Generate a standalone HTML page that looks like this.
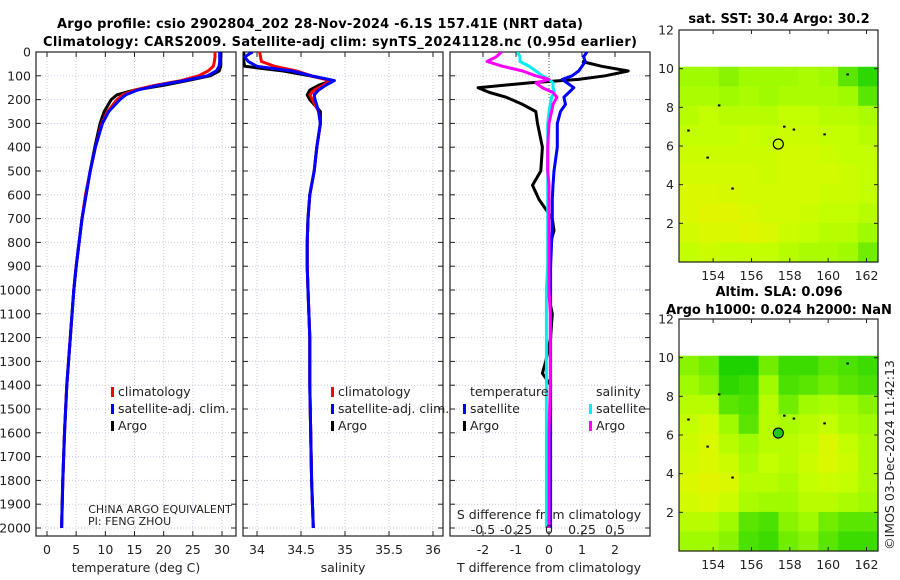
<!DOCTYPE html>
<html><head><meta charset="utf-8"><style>
html,body{margin:0;padding:0;background:#fff;}
svg{display:block;font-family:"DejaVu Sans","Liberation Sans",sans-serif;}
text{fill:#222;}
.t{font-weight:bold;font-size:13px;fill:#000;}
.tk{font-size:12.5px;}
.lg{font-size:12.5px;}
</style></head><body>
<svg id="fig" width="900" height="580" viewBox="0 0 900 580">
<rect width="900" height="580" fill="#fff"/>
<text class="t" x="320" y="28" text-anchor="middle" textLength="526">Argo profile: csio 2902804_202 28-Nov-2024 -6.1S 157.41E (NRT data)</text>
<text class="t" x="340" y="46" text-anchor="middle" textLength="594">Climatology: CARS2009. Satellite-adj clim: synTS_20241128.nc (0.95d earlier)</text>
<text class="t" x="779" y="23" text-anchor="middle">sat. SST: 30.4 Argo: 30.2</text>
<text class="t" x="779" y="296" text-anchor="middle">Altim. SLA: 0.096</text>
<text class="t" x="779" y="314" text-anchor="middle">Argo h1000: 0.024 h2000: NaN</text>
<text x="894" y="455" font-size="12.5" text-anchor="middle" transform="rotate(-90 894 455)">©IMOS 03-Dec-2024 11:42:13</text>
<text class="tk" x="136" y="572" text-anchor="middle">temperature (deg C)</text>
<text class="tk" x="343" y="572" text-anchor="middle">salinity</text>
<text class="tk" x="549" y="572" text-anchor="middle">T difference from climatology</text>
<text x="160" y="513" font-size="11" text-anchor="middle">CHINA ARGO EQUIVALENT</text>
<text x="88" y="525" font-size="11">PI: FENG ZHOU</text>
<text class="tk" x="549" y="519" text-anchor="middle">S difference from climatology</text>
</svg>
<script>
// ---- data ----
const depthLevels = [0,20,40,60,80,100,120,140,160,180,200,250,300,400,500,600,700,800,900,1000,1200,1400,1600,1800,2000];
const tempArgo  = [29.8,29.8,29.8,29.8,29.5,28,24,20,15,12,11,9.8,9.1,8.2,7.4,6.7,6.0,5.5,5.0,4.6,4.0,3.4,3.0,2.7,2.5];
const tempClim  = [28.8,28.8,28.7,28.5,27.6,26,23,18.5,15,13,12,10.4,9.4,8.3,7.4,6.6,6.0,5.5,5.0,4.6,4.0,3.4,3.0,2.7,2.5];
const tempSat   = [29.6,29.6,29.6,29.5,29.0,27.5,23.5,19,15.5,13.5,12.5,10.6,9.5,8.3,7.4,6.7,6.0,5.5,5.0,4.6,4.0,3.4,3.0,2.7,2.5];
const salArgo   = [33.85,33.85,33.85,33.86,34.3,34.6,34.85,34.7,34.6,34.57,34.6,34.72,34.72,34.68,34.65,34.6,34.58,34.57,34.57,34.58,34.6,34.6,34.61,34.62,34.64];
const salClim   = [34.03,34.04,34.05,34.2,34.45,34.62,34.83,34.75,34.65,34.6,34.63,34.7,34.72,34.68,34.65,34.6,34.58,34.57,34.57,34.58,34.6,34.6,34.61,34.62,34.64];
const salSat    = [33.95,33.86,33.9,34.0,34.4,34.62,34.88,34.78,34.7,34.65,34.66,34.7,34.72,34.68,34.65,34.6,34.58,34.57,34.57,34.58,34.6,34.6,34.61,34.62,34.64];
const diffDepths = [0,20,40,60,80,100,115,130,150,170,190,220,250,300,400,500,560,620,700,750,800,900,1000,1100,1200,1300,1350,1400,1600,1800,2000];
const tDiffArgo = [null,null,1.0,1.6,2.4,1.7,0.9,-0.6,-2.15,-1.8,-1.3,-0.8,-0.4,-0.35,-0.2,-0.25,-0.5,-0.3,0.1,0.15,0.05,0,-0.05,0.1,0.05,-0.1,-0.2,0.05,0.02,0.02,0.02];
const tDiffSat  = [1.15,1.05,1.1,1.0,0.9,0.7,0.4,0.55,0.75,0.6,0.45,0.5,0.35,0.25,0.25,0.15,0.12,0.1,0.1,0.1,0.08,0.05,0.05,0.05,0.05,0.05,0.05,0.05,0.05,0.05,0.05];
const sDiffArgo = [-0.36,-0.4,-0.47,-0.35,-0.2,-0.1,0,-0.1,-0.05,0.03,0.06,0.03,0.02,0.0,-0.01,-0.01,0,0,0,0,0,0,0,0.01,0.01,0.01,0.01,0.01,0.0,0.0,0.0];
const sDiffSat  = [-0.24,-0.22,-0.22,-0.15,-0.1,-0.05,0.0,0.03,0.03,0.04,0.02,0.01,0,-0.01,-0.01,-0.01,-0.01,-0.01,-0.01,-0.01,-0.01,-0.01,-0.02,-0.02,-0.02,-0.02,-0.02,-0.02,-0.02,-0.02,-0.02];
const depthTicks = [0,100,200,300,400,500,600,700,800,900,1000,1100,1200,1300,1400,1500,1600,1700,1800,1900,2000];
const tempTicks = [0,5,10,15,20,25,30];
const salTicks = [34,34.5,35,35.5,36];
const tDiffTicks = [-2,-1,0,1,2];
const sDiffTicks = [-0.5,-0.25,0,0.25,0.5];
const sDiffTickLabels = ["-0.5","-0.25","0","0.25","0.5"];
const latTicks = [2,4,6,8,10,12];
const lonTicks = [154,156,158,160,162];
const floatLon = 157.4, floatLat = 6.1;
const sstGrid = [
[.45,.45,.4,.45,.45,.45,.5,.45,.3,.15],
[.5,.5,.45,.5,.45,.5,.5,.5,.45,.3],
[.55,.6,.55,.55,.55,.6,.6,.55,.55,.5],
[.6,.6,.6,.65,.6,.65,.65,.6,.6,.55],
[.65,.65,.65,.65,.65,.7,.7,.65,.6,.6],
[.7,.7,.7,.7,.65,.7,.7,.7,.65,.6],
[.75,.75,.72,.7,.7,.7,.7,.65,.65,.6],
[.75,.8,.8,.75,.7,.7,.65,.6,.6,.55],
[.7,.75,.75,.8,.75,.65,.6,.55,.55,.45],
[.6,.65,.6,.6,.6,.55,.5,.5,.45,.35]];
const slaGrid = [
[.4,.35,.1,.1,.35,.2,.2,.3,.25,.2],
[.45,.4,.15,.2,.45,.25,.3,.35,.3,.25],
[.55,.55,.3,.25,.55,.35,.45,.5,.45,.4],
[.6,.7,.45,.3,.55,.5,.55,.6,.5,.45],
[.65,.75,.55,.45,.55,.55,.6,.75,.6,.5],
[.7,.75,.65,.5,.6,.55,.65,.75,.65,.5],
[.75,.8,.75,.55,.55,.5,.6,.65,.6,.5],
[.7,.75,.65,.5,.45,.45,.55,.55,.5,.45],
[.55,.55,.45,.3,.25,.4,.45,.35,.3,.3],
[.45,.45,.4,.25,.2,.35,.4,.3,.2,.2]];
const islandLon = [152.7,154.3,153.7,155.0,157.7,158.2,159.8,161.0];
const islandLat = [6.8,8.1,5.4,3.8,7.0,6.85,6.6,9.7];

// ---- drawing ----
const NS='http://www.w3.org/2000/svg';
const svg=document.getElementById('fig');
function mk(tag,attrs,parent){const e=document.createElementNS(NS,tag);for(const k in attrs)e.setAttribute(k,attrs[k]);(parent||svg).appendChild(e);return e;}
const Y0=52, YPX=0.238;
function yD(d){return Y0+d*YPX;}
const PT=52, PB=536;
function lin(d0,d1,p0,p1){return v=>p0+(v-d0)*(p1-p0)/(d1-d0);}
const xT=lin(0,30,47,222), xS=lin(34,36,257,433), xTd=lin(0,1,549,582), xSd=lin(0,0.25,549,582);

function panel(name,x0,x1,xticks,xf,showY,labels){
  const g=mk('g',{});
  
  
  xticks.forEach((t)=>{const x=xf(t);
    const l=mk('line',{x1:x,x2:x,y1:PT,y2:PB,stroke:'#c9cbe6','stroke-dasharray':'1,2','stroke-width':1},g);
    });
  depthTicks.forEach(d=>{const y=yD(d);
    const l=mk('line',{x1:x0,x2:x1,y1:y,y2:y,stroke:'#c9cbe6','stroke-dasharray':'1,2','stroke-width':1},g);
    
    mk('line',{x1:x0,x2:x0+5,y1:y,y2:y,stroke:'#222'},g);mk('line',{x1:x1-5,x2:x1,y1:y,y2:y,stroke:'#222'},g);
    if(showY){const t=mk('text',{x:31,y:y+4.5,'text-anchor':'end','class':'tk'},g);t.textContent=d;
      }
  });
  xticks.forEach((t,i)=>{const x=xf(t);
    mk('line',{x1:x,x2:x,y1:PB,y2:PB-5,stroke:'#222'},g);mk('line',{x1:x,x2:x,y1:PT,y2:PT+5,stroke:'#222'},g);
    const tx=mk('text',{x:x,y:554,'text-anchor':'middle','class':'tk'},g);tx.textContent=labels?labels[i]:t;
    });
  const cp=mk('clipPath',{id:'clip-'+name},svg);mk('rect',{x:x0,y:PT,width:x1-x0,height:PB-PT},cp);
  const frame=mk('rect',{x:x0,y:PT,width:x1-x0,height:PB-PT,fill:'none',stroke:'#222','stroke-width':1.2});
  
  return g;
}
function profile(name,depths,vals,xf,color,clip,w){
  let d='';let pen=false;
  vals.forEach((v,i)=>{if(v===null){pen=false;return;}d+=(pen?'L':'M')+xf(v).toFixed(1)+','+yD(depths[i]).toFixed(1);pen=true;});
  const p=mk('path',{d:d,fill:'none',stroke:color,'stroke-width':w||3,'stroke-linejoin':'round','clip-path':'url(#clip-'+clip+')'});
  
}
panel('temperature',36,236,tempTicks,xT,true);
profile('temp-argo-line',depthLevels,tempArgo,xT,'#000','temperature');
profile('temp-climatology-line',depthLevels,tempClim,xT,'#f00','temperature');
profile('temp-satellite-line',depthLevels,tempSat,xT,'#00f','temperature');
panel('salinity',243,443,salTicks,xS,false);
profile('sal-argo-line',depthLevels,salArgo,xS,'#000','salinity');
profile('sal-climatology-line',depthLevels,salClim,xS,'#f00','salinity');
profile('sal-satellite-line',depthLevels,salSat,xS,'#00f','salinity');
panel('difference',450,650,tDiffTicks,xTd,false);
const zl=mk('line',{x1:549,x2:549,y1:PT,y2:yD(200),stroke:'#2a6a2a','stroke-dasharray':'1,2'});

profile('t-diff-argo-line',diffDepths,tDiffArgo,xTd,'#000','difference');
profile('t-diff-satellite-line',diffDepths,tDiffSat,xTd,'#00f','difference');
profile('s-diff-satellite-line',diffDepths,sDiffSat,xSd,'#0ee','difference');
profile('s-diff-argo-line',diffDepths,sDiffArgo,xSd,'#f0f','difference');
sDiffTicks.forEach((t,i)=>{const tx=mk('text',{x:xSd(t),y:534,'text-anchor':'middle','class':'tk'});tx.textContent=sDiffTickLabels[i];
  });

function legend(name,x,y,color,label){
  const b=mk('rect',{x:x,y:y-9,width:3,height:10,fill:color});
  
  const t=mk('text',{x:x+7,y:y,'class':'lg'});t.textContent=label;
  
}
[[111,'temp'],[331,'sal']].forEach(([x,n])=>{
  legend(n+'-legend-climatology',x,396,'#f00','climatology');
  legend(n+'-legend-satellite',x,413,'#00f','satellite-adj. clim.');
  legend(n+'-legend-argo',x,430,'#000','Argo');
});
let lt=mk('text',{x:470,y:396,'class':'lg'});lt.textContent='temperature';

lt=mk('text',{x:596,y:396,'class':'lg'});lt.textContent='salinity';

legend('diff-legend-t-satellite',463,413,'#00f','satellite');
legend('diff-legend-t-argo',463,430,'#000','Argo');
legend('diff-legend-s-satellite',589,413,'#0ee','satellite');
legend('diff-legend-s-argo',589,430,'#f0f','Argo');

// ---- maps ----
const stops=[[0,[0,200,0]],[0.3,[90,230,0]],[0.45,[160,250,0]],[0.6,[195,255,0]],[0.8,[225,245,0]],[1,[245,225,0]]];
function cmap(v){for(let i=1;i<stops.length;i++){if(v<=stops[i][0]){const a=stops[i-1],b=stops[i];const f=(v-a[0])/(b[0]-a[0]);
  return 'rgb('+a[1].map((c,k)=>Math.round(c+(b[1][k]-c)*f)).join(',')+')';}}return 'rgb(245,225,0)';}
function map(name,top,grid){
  const L=679,R=878,B=top+232;
  const xl=lin(152.22,162.6,L,R), yl=lin(0,12,B,top);
  const g=mk('g',{});
  const rows=grid.length, cols=grid[0].length;
  const lon0=152.22, lon1=162.6, lat1=10.1;
  grid.forEach((row,r)=>row.forEach((v,c)=>{
    const x=xl(lon0+(lon1-lon0)*c/cols), x2=xl(lon0+(lon1-lon0)*(c+1)/cols);
    const y=yl(lat1-lat1*r/rows), y2=yl(lat1-lat1*(r+1)/rows);
    const cell=mk('rect',{x:x,y:y,width:x2-x+0.6,height:y2-y+0.6,fill:cmap(v)},g);
    
  }));
  islandLon.forEach((lo,i)=>{const d=mk('rect',{x:xl(lo)-1,y:yl(islandLat[i])-1,width:2.5,height:2,fill:'#000'},g);
    });
  const c=mk('circle',{cx:xl(floatLon),cy:yl(floatLat),r:5,fill:name.startsWith('sla')?'#1ccc1c':'none',stroke:'#000','stroke-width':1.2},g);
  
  latTicks.forEach(t=>{const y=yl(t);mk('line',{x1:L,x2:L+4,y1:y,y2:y,stroke:'#222'},g);mk('line',{x1:R-4,x2:R,y1:y,y2:y,stroke:'#222'},g);
    const tx=mk('text',{x:L-5,y:y+4.5,'text-anchor':'end','class':'tk'},g);tx.textContent=t;
    });
  lonTicks.forEach(t=>{const x=xl(t);mk('line',{x1:x,x2:x,y1:B,y2:B-4,stroke:'#222'},g);mk('line',{x1:x,x2:x,y1:top,y2:top+4,stroke:'#222'},g);
    const tx=mk('text',{x:x,y:B+18,'text-anchor':'middle','class':'tk'},g);tx.textContent=t;
    });
  const f=mk('rect',{x:L,y:top,width:R-L,height:B-top,fill:'none',stroke:'#222','stroke-width':1.2},g);
  
}
map('sst-map',30,sstGrid);
map('sla-map',319,slaGrid);
</script>
</body></html>
